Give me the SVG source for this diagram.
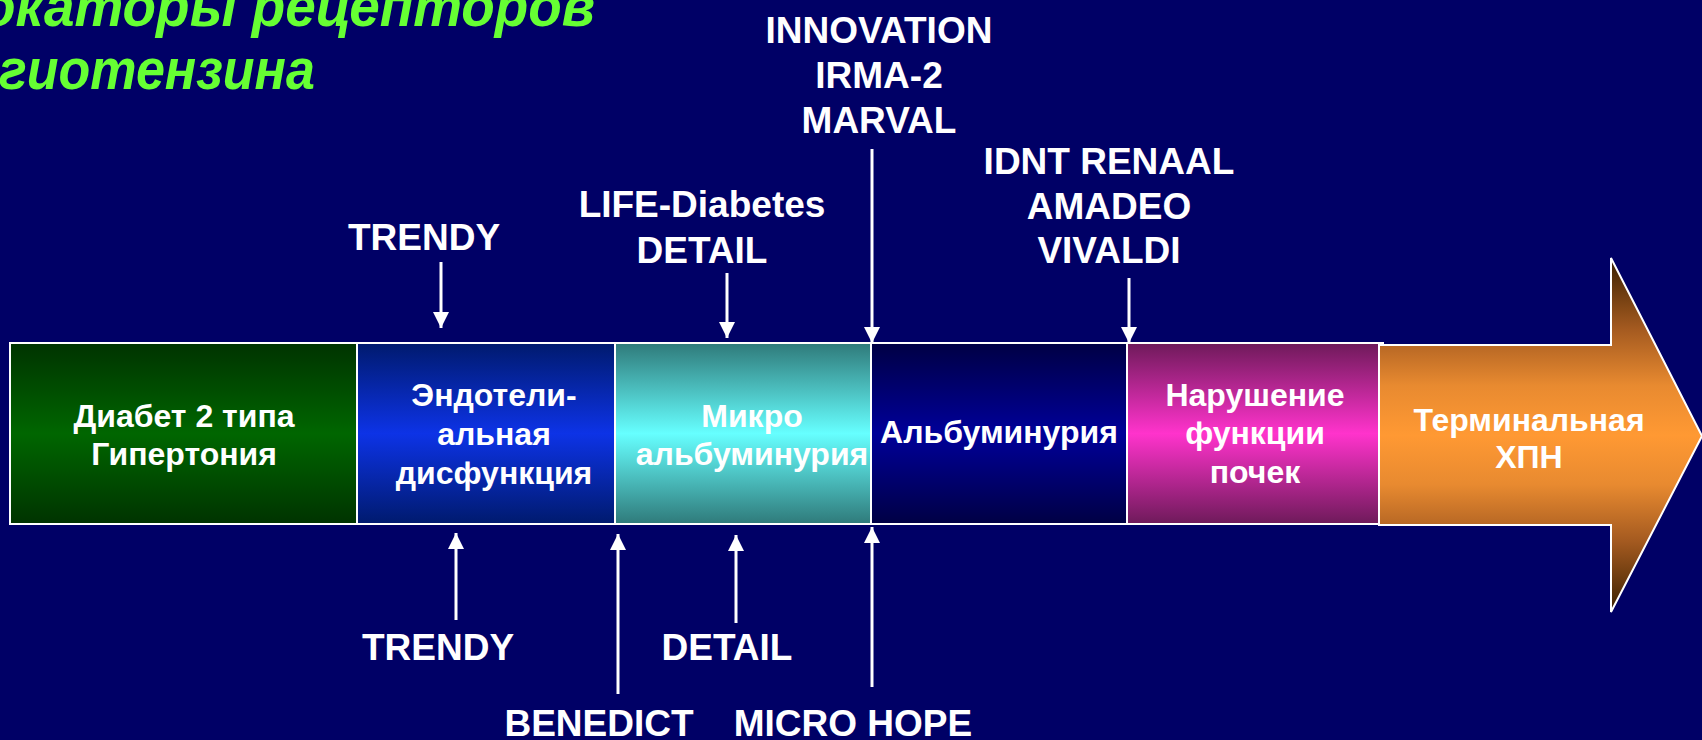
<svg xmlns="http://www.w3.org/2000/svg" width="1702" height="740" viewBox="0 0 1702 740">
<defs>
<style>
.lbl{font-family:"Liberation Sans",Arial,sans-serif;font-weight:bold;font-size:37px;fill:#ffffff;text-anchor:middle}
.box{font-family:"Liberation Sans",Arial,sans-serif;font-weight:bold;font-size:32px;fill:#ffffff;text-anchor:middle}
.title{font-family:"Liberation Sans",Arial,sans-serif;font-weight:bold;font-style:italic;font-size:57px;fill:#66ff33}
.frame{stroke:#ffffff;stroke-width:2}
.conn{stroke:#ffffff;stroke-width:3;fill:none;marker-end:url(#ah)}
</style>
<marker id="ah" markerUnits="userSpaceOnUse" markerWidth="16" markerHeight="16" refX="16" refY="8" orient="auto">
<path d="M0,0 L16,8 L0,16 z" fill="#ffffff"/>
</marker>
<linearGradient id="gGreen" x1="0" y1="0" x2="0" y2="1">
<stop offset="0" stop-color="#003300"/><stop offset="0.5" stop-color="#006600"/><stop offset="1" stop-color="#003300"/>
</linearGradient>
<linearGradient id="gBlue" x1="0" y1="0" x2="0" y2="1">
<stop offset="0" stop-color="#001a6e"/><stop offset="0.5" stop-color="#0d33e6"/><stop offset="1" stop-color="#001a6e"/>
</linearGradient>
<linearGradient id="gCyan" x1="0" y1="0" x2="0" y2="1">
<stop offset="0" stop-color="#2f7a7a"/><stop offset="0.5" stop-color="#66ffff"/><stop offset="1" stop-color="#2f7a7a"/>
</linearGradient>
<linearGradient id="gNavy" x1="0" y1="0" x2="0" y2="1">
<stop offset="0" stop-color="#000044"/><stop offset="0.5" stop-color="#000099"/><stop offset="1" stop-color="#000044"/>
</linearGradient>
<linearGradient id="gMag" x1="0" y1="0" x2="0" y2="1">
<stop offset="0" stop-color="#6e1a5a"/><stop offset="0.5" stop-color="#ff33cc"/><stop offset="1" stop-color="#6e1a5a"/>
</linearGradient>
<linearGradient id="gOrange" x1="0" y1="0" x2="0" y2="1">
<stop offset="0" stop-color="#3a2000"/><stop offset="0.2" stop-color="#a45a20"/><stop offset="0.36" stop-color="#e88a30"/><stop offset="0.5" stop-color="#ff9933"/><stop offset="0.64" stop-color="#e88a30"/><stop offset="0.8" stop-color="#a45a20"/><stop offset="1" stop-color="#3a2000"/>
</linearGradient>
</defs>
<rect x="0" y="0" width="1702" height="740" fill="#000066"/>

<g id="title">
<text class="title" x="-18" y="26" textLength="613" lengthAdjust="spacingAndGlyphs">окаторы рецепторов</text>
<text class="title" x="-1" y="89" textLength="316" lengthAdjust="spacingAndGlyphs">гиотензина</text>
</g>

<g id="node-diabetes">
<rect class="frame" x="10" y="343" width="347" height="181" fill="url(#gGreen)"/>
<text class="box" x="184" y="427">Диабет 2 типа</text>
<text class="box" x="184" y="465">Гипертония</text>
</g>
<g id="node-endothelial">
<rect class="frame" x="357" y="343" width="258" height="181" fill="url(#gBlue)"/>
<text class="box" x="494" y="406">Эндотели-</text>
<text class="box" x="494" y="445">альная</text>
<text class="box" x="494" y="484">дисфункция</text>
</g>
<g id="node-micro">
<rect class="frame" x="615" y="343" width="256" height="181" fill="url(#gCyan)"/>
<text class="box" x="752" y="427">Микро</text>
<text class="box" x="752" y="465">альбуминурия</text>
</g>
<g id="node-albuminuria">
<rect class="frame" x="871" y="343" width="256" height="181" fill="url(#gNavy)"/>
<text class="box" x="999" y="443">Альбуминурия</text>
</g>
<g id="node-renal">
<rect class="frame" x="1127" y="343" width="256" height="181" fill="url(#gMag)"/>
<text class="box" x="1255" y="406">Нарушение</text>
<text class="box" x="1255" y="444">функции</text>
<text class="box" x="1255" y="483">почек</text>
</g>
<g id="node-esrd">
<polygon class="frame" points="1379,345 1611,345 1611,258 1702,436 1611,612 1611,525 1379,525" fill="url(#gOrange)"/>
<text class="box" x="1529" y="431">Терминальная</text>
<text class="box" x="1529" y="468">ХПН</text>
</g>

<g id="labels">
<text class="lbl" x="424" y="250">TRENDY</text>
<text class="lbl" x="702" y="217">LIFE-Diabetes</text>
<text class="lbl" x="702" y="263">DETAIL</text>
<text class="lbl" x="879" y="43">INNOVATION</text>
<text class="lbl" x="879" y="88">IRMA-2</text>
<text class="lbl" x="879" y="133">MARVAL</text>
<text class="lbl" x="1109" y="174">IDNT RENAAL</text>
<text class="lbl" x="1109" y="219">AMADEO</text>
<text class="lbl" x="1109" y="263">VIVALDI</text>
<text class="lbl" x="438" y="660">TRENDY</text>
<text class="lbl" x="727" y="660">DETAIL</text>
<text class="lbl" x="599" y="736">BENEDICT</text>
<text class="lbl" x="853" y="736">MICRO HOPE</text>
</g>

<g id="connectors">
<line class="conn" x1="441" y1="262" x2="441" y2="328"/>
<line class="conn" x1="727" y1="273" x2="727" y2="338"/>
<line class="conn" x1="872" y1="149" x2="872" y2="343"/>
<line class="conn" x1="1129" y1="278" x2="1129" y2="343"/>
<line class="conn" x1="456" y1="620" x2="456" y2="533"/>
<line class="conn" x1="618" y1="694" x2="618" y2="534"/>
<line class="conn" x1="736" y1="623" x2="736" y2="535"/>
<line class="conn" x1="872" y1="687" x2="872" y2="527"/>
</g>
</svg>
